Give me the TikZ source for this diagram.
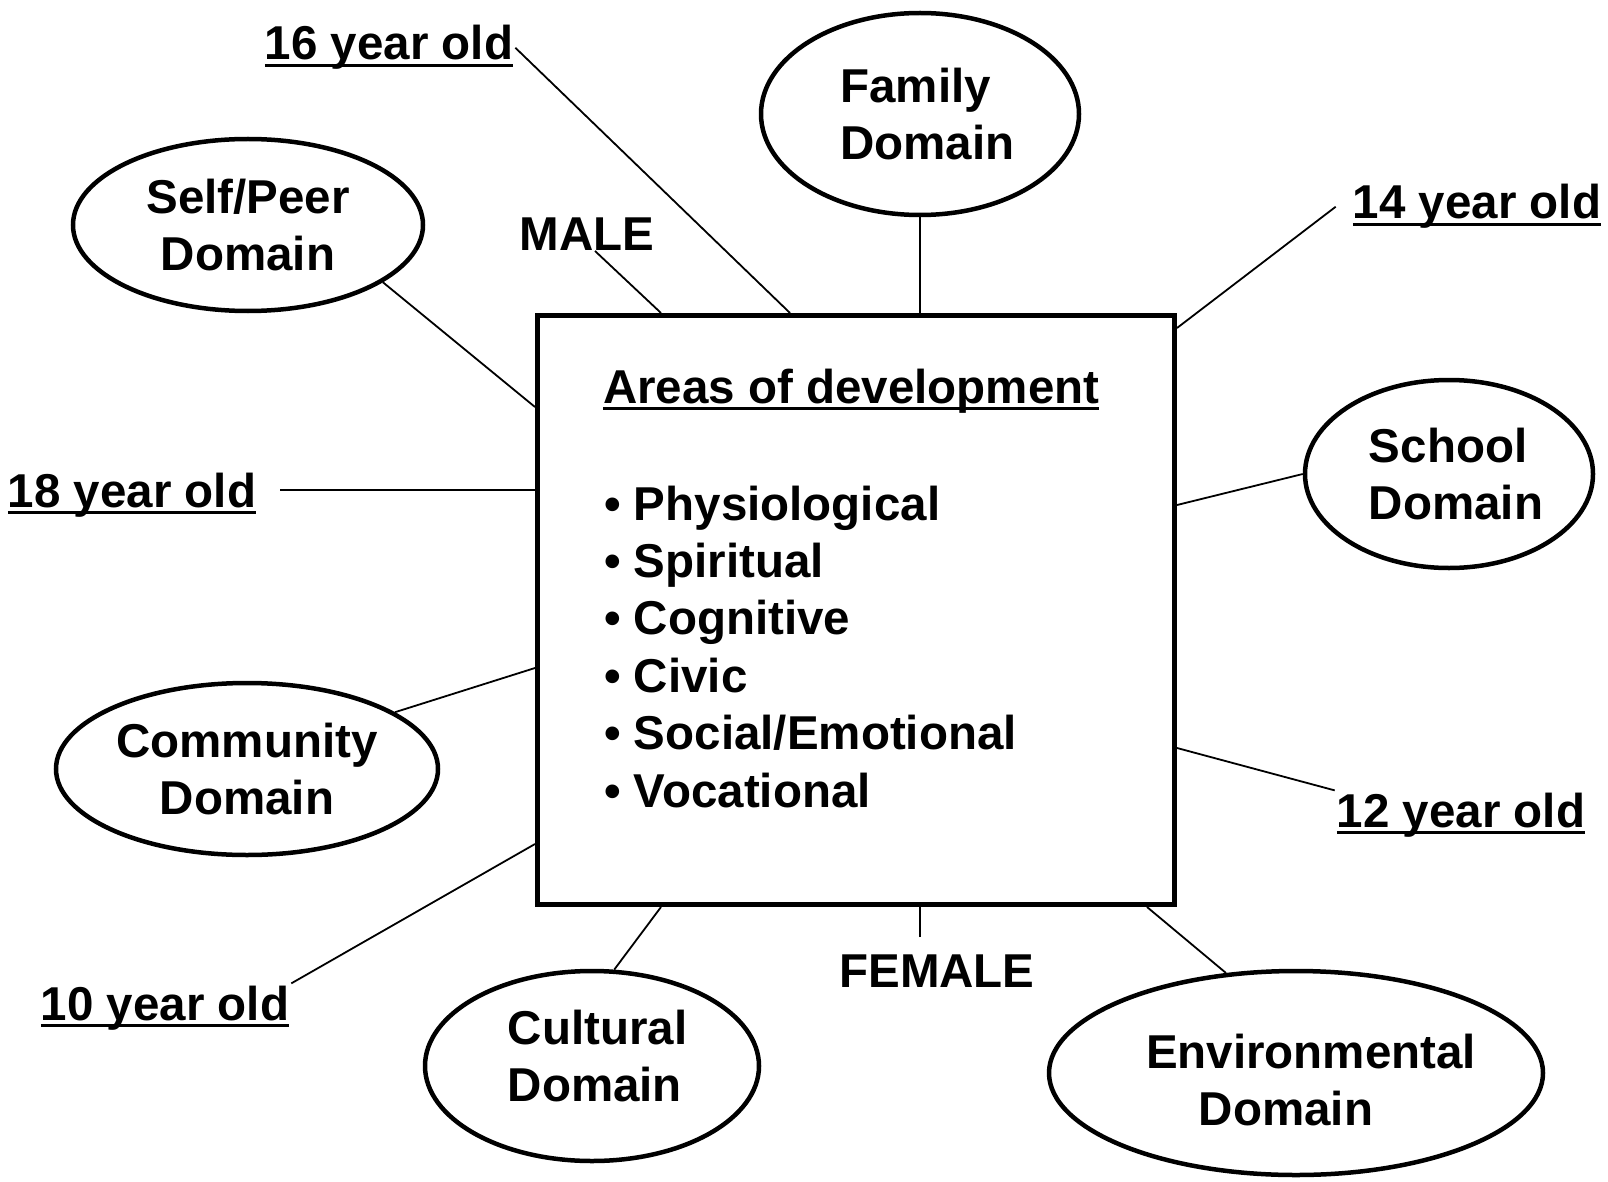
\documentclass[tikz,border=0pt]{standalone}
\usepackage{fontspec}
\setmainfont{Liberation Sans}
\usetikzlibrary{shapes.geometric}
\newcommand{\diagfont}{\fontsize{47.5}{57.4}\selectfont\bfseries}
\newcommand{\ulabel}[1]{\setbox0\hbox{#1}\rlap{\rule[-7pt]{\wd0}{3pt}}\box0}

\begin{document}
\begin{tikzpicture}[x=1pt, y=-1pt, every node/.style={font=\diagfont}]
    \tikzstyle{domainnode}=[ellipse, draw, line width=4.5pt, align=center, inner sep=0pt]
    \tikzstyle{agelabel}=[inner sep=2pt, anchor=base]
    \tikzstyle{connector}=[line width=1.8pt]

    \useasboundingbox (0,0) rectangle (1608,1182);

    % centre box
    \node[draw, line width=5pt, minimum width=637pt, minimum height=589pt] (box) at (856,610) {};
    \node[anchor=base west, inner sep=0pt] (title) at (603,403) {\ulabel{Areas of development}};
    \foreach \t [count=\i] in {Physiological, Spiritual, Cognitive, Civic, Social/Emotional, Vocational}
        \node[anchor=base west, inner sep=0pt] (area\i) at (604,{520+57.4*(\i-1)}) {\textbullet\ \t};

    % domains
    \node[domainnode, align=left, minimum width=318pt, minimum height=202pt] (family) at (920,114) {\hspace*{15pt}Family\\\hspace*{15pt}Domain};
    \node[domainnode, minimum width=350pt, minimum height=172pt] (self) at (248,225) {Self/Peer\\Domain};
    \node[domainnode, align=left, minimum width=288pt, minimum height=188pt] (school) at (1449,474) {\hspace*{14pt}School\\\hspace*{14pt}Domain};
    \node[domainnode, minimum width=382pt, minimum height=172pt] (community) at (247,769) {Community\\Domain};
    \node[domainnode, align=left, minimum width=334pt, minimum height=190pt, text depth=20pt] (cultural) at (592,1066) {\hspace*{11pt}Cultural\\\hspace*{11pt}Domain};
    \node[domainnode, minimum width=494pt, minimum height=204pt, text height=106pt] (environ) at (1296,1073) {\hspace*{15pt}Environmental\hspace*{-15pt}\\Domain\hspace*{20pt}};

    % ages and sexes
    \node[agelabel] (y16) at (389,60) {\ulabel{16 year old}};
    \node[agelabel] (y14) at (1477,219) {\ulabel{14 year old}};
    \node[agelabel] (y18) at (132,507) {\ulabel{18 year old}};
    \node[agelabel] (y12) at (1461,827) {\ulabel{12 year old}};
    \node[agelabel] (y10) at (165,1020) {\ulabel{10 year old}};
    \node[agelabel] (male) at (587,251) {MALE};
    \node[agelabel] (female) at (937,987) {FEMALE};

    % where the lines meet the box
    \coordinate (b16) at (790,313);
    \coordinate (bmale) at (661,313);
    \coordinate (bfamily) at (920,313);
    \coordinate (b14) at (1177,328);
    \coordinate (bschool) at (1177,505);
    \coordinate (b12) at (1177,748);
    \coordinate (benv) at (1147,907);
    \coordinate (bfemale) at (920,907);
    \coordinate (bcultural) at (661,907);
    \coordinate (b10) at (535,844);
    \coordinate (bcommunity) at (535,668);
    \coordinate (b18) at (535,490);
    \coordinate (bself) at (535,407);

    \draw[connector] (y16.east) -- (b16);
    \draw[connector] ([xshift=8pt]male.base) -- (bmale);
    \draw[connector] (family.south) -- (bfamily);
    \draw[connector] ([xshift=-15pt]y14.west) -- (b14);
    \draw[connector] (school.west) -- (bschool);
    \draw[connector] (y12.north west) -- (b12);
    \draw[connector] (environ.125) -- (benv);
    \draw[connector] ([xshift=-17pt,yshift=15pt]female.north) -- (bfemale);
    \draw[connector] (cultural.77) -- (bcultural);
    \draw[connector] (y10.north east) -- (b10);
    \draw[connector] (community.21) -- (bcommunity);
    \draw[connector, shorten >=22pt] (b18) -- (b18 -| y18.east);
    \draw[connector] (self.-23) -- (bself);
\end{tikzpicture}
\end{document}
